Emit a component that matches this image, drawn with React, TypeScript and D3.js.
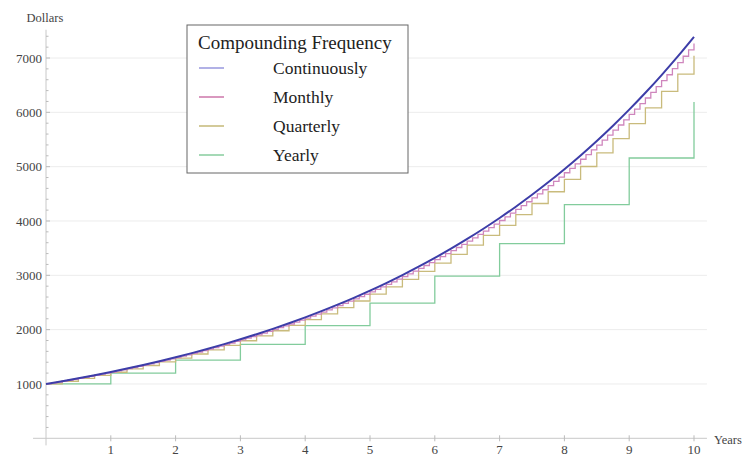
import React from "react";
import * as d3 from "d3";

// principal 1000, 20% a year
const yearly = [1000, 1200, 1440, 1728, 2073.6, 2488.32, 2985.98, 3583.18, 4299.82, 5159.78, 6191.74];

const quarterly = [
  1000, 1050, 1102.5, 1157.63, 1215.51, 1276.28, 1340.1, 1407.1, 1477.46, 1551.33,
  1628.89, 1710.34, 1795.86, 1885.65, 1979.93, 2078.93, 2182.87, 2292.02, 2406.62, 2526.95,
  2653.3, 2785.96, 2925.26, 3071.52, 3225.1, 3386.35, 3555.67, 3733.46, 3920.13, 4116.14,
  4321.94, 4538.04, 4764.94, 5003.19, 5253.35, 5516.02, 5791.82, 6081.41, 6385.48, 6704.75,
  7039.99,
];

const monthly = [
  1000, 1016.67, 1033.61, 1050.84, 1068.35, 1086.16, 1104.26, 1122.67, 1141.38, 1160.4, 1179.74, 1199.4,
  1219.39, 1239.71, 1260.38, 1281.38, 1302.74, 1324.45, 1346.53, 1368.97, 1391.78, 1414.98, 1438.56, 1462.54,
  1486.91, 1511.7, 1536.89, 1562.51, 1588.55, 1615.02, 1641.94, 1669.31, 1697.13, 1725.41, 1754.17, 1783.41,
  1813.13, 1843.35, 1874.07, 1905.31, 1937.06, 1969.35, 2002.17, 2035.54, 2069.46, 2103.95, 2139.02, 2174.67,
  2210.91, 2247.76, 2285.23, 2323.31, 2362.03, 2401.4, 2441.43, 2482.12, 2523.48, 2565.54, 2608.3, 2651.77,
  2695.97, 2740.9, 2786.58, 2833.03, 2880.24, 2928.25, 2977.05, 3026.67, 3077.12, 3128.4, 3180.54, 3233.55,
  3287.44, 3342.23, 3397.94, 3454.57, 3512.14, 3570.68, 3630.19, 3690.7, 3752.21, 3814.74, 3878.32, 3942.96,
  4008.68, 4075.49, 4143.41, 4212.47, 4282.68, 4354.06, 4426.63, 4500.4, 4575.41, 4651.66, 4729.19, 4808.01,
  4888.14, 4969.61, 5052.44, 5136.65, 5222.26, 5309.3, 5397.79, 5487.75, 5579.21, 5672.2, 5766.73, 5862.84,
  5960.56, 6059.9, 6160.9, 6263.58, 6367.97, 6474.11, 6582.01, 6691.71, 6803.24, 6916.63, 7031.9, 7149.1,
  7268.25,
];

// continuous, sampled every quarter year
const continuous = [
  1000, 1051.27, 1105.17, 1161.83, 1221.4, 1284.03, 1349.86, 1419.07, 1491.82, 1568.31,
  1648.72, 1733.25, 1822.12, 1915.54, 2013.75, 2117.0, 2225.54, 2339.65, 2459.6, 2585.71,
  2718.28, 2857.65, 3004.17, 3158.19, 3320.12, 3490.34, 3669.3, 3857.43, 4055.2, 4263.11,
  4481.69, 4711.47, 4953.03, 5206.98, 5473.95, 5754.6, 6049.65, 6359.82, 6685.89, 7028.69,
  7389.06,
];

const xTicks = [1, 2, 3, 4, 5, 6, 7, 8, 9, 10];
const yTicks = [1000, 2000, 3000, 4000, 5000, 6000, 7000];
const yMinor = d3.range(200, 7600, 200);

const legendNames = ["Continuously", "Monthly", "Quarterly", "Yearly"];
const lineColors = ["#3d3da8", "#cf86bd", "#c9bb7c", "#82cc9c"];
const swatchColors = ["#9e9ee0", "#d07fb0", "#c8bd80", "#8fd0a4"];

const W = 750;
const H = 466;
const font = "'Liberation Serif', 'DejaVu Serif', serif";

export default function App() {
  const x = d3.scaleLinear().domain([0, 10]).range([46, 694]);
  const y = d3.scaleLinear().domain([0, 7000]).range([438.3, 58]);

  const step = (vals: number[], per: number) =>
    d3
      .line<number>()
      .x((_, i) => x(i / per))
      .y((d) => y(d))
      .curve(d3.curveStepAfter)(vals) || "";

  const smooth =
    d3
      .line<number>()
      .x((_, i) => x(i / 4))
      .y((d) => y(d))
      .curve(d3.curveMonotoneX)(continuous) || "";

  const series = [
    { path: smooth, color: lineColors[0], w: 2 },
    { path: step(monthly, 12), color: lineColors[1], w: 1.3 },
    { path: step(quarterly, 4), color: lineColors[2], w: 1.3 },
    { path: step(yearly, 1), color: lineColors[3], w: 1.3 },
  ];

  const lx = 187;
  const ly = 25;

  return (
    <svg width={W} height={H} style={{ position: "absolute", left: 0, top: 0 }} fontFamily={font}>
      <rect width={W} height={H} fill="#fff" />

      {/* grid */}
      {yTicks.map((t) => (
        <line key={"g" + t} x1={x(0)} x2={x(10.2)} y1={y(t)} y2={y(t)} stroke="#ececec" />
      ))}

      {/* axes */}
      <line x1={x(-0.2)} x2={x(10.2)} y1={y(0)} y2={y(0)} stroke="#c8c8c8" />
      <line x1={x(0)} x2={x(0)} y1={y(-130)} y2={y(7520)} stroke="#c8c8c8" />

      {yMinor.map((t) => (
        <line
          key={"m" + t}
          x1={x(0)}
          x2={x(0) + (t % 1000 === 0 ? 4 : 2.5)}
          y1={y(t)}
          y2={y(t)}
          stroke="#bbb"
        />
      ))}
      {xTicks.map((t) => (
        <line key={"xt" + t} x1={x(t)} x2={x(t)} y1={y(0) - 3} y2={y(0) + 3} stroke="#bbb" />
      ))}

      {yTicks.map((t) => (
        <text key={"yl" + t} x={x(0) - 4} y={y(t)} dy="0.35em" textAnchor="end" fontSize={13} fill="#444">
          {t}
        </text>
      ))}
      {xTicks.map((t) => (
        <text key={"xl" + t} x={x(t)} y={y(0) + 16} textAnchor="middle" fontSize={13} fill="#444">
          {t}
        </text>
      ))}

      <text x={45} y={22} textAnchor="middle" fontSize={12.5} fill="#444">
        Dollars
      </text>
      <text x={714} y={444} fontSize={12.5} fill="#444">
        Years
      </text>

      {/* lines, continuous on top */}
      {series
        .slice()
        .reverse()
        .map((s, i) => (
          <path key={"s" + i} d={s.path} fill="none" stroke={s.color} strokeWidth={s.w} />
        ))}

      {/* legend */}
      <rect x={lx} y={ly} width={221} height={148} fill="#fff" stroke="#666" />
      <text x={lx + 11} y={ly + 24} fontSize={19} fill="#222">
        Compounding Frequency
      </text>
      {legendNames.map((n, i) => (
        <g key={n} transform={`translate(${lx},${ly + 43 + i * 29})`}>
          <line x1={12} x2={37} y1={0} y2={0} stroke={swatchColors[i]} strokeWidth={1.6} />
          <text x={86} y={0} dy="0.35em" fontSize={17.5} fill="#222">
            {n}
          </text>
        </g>
      ))}
    </svg>
  );
}
